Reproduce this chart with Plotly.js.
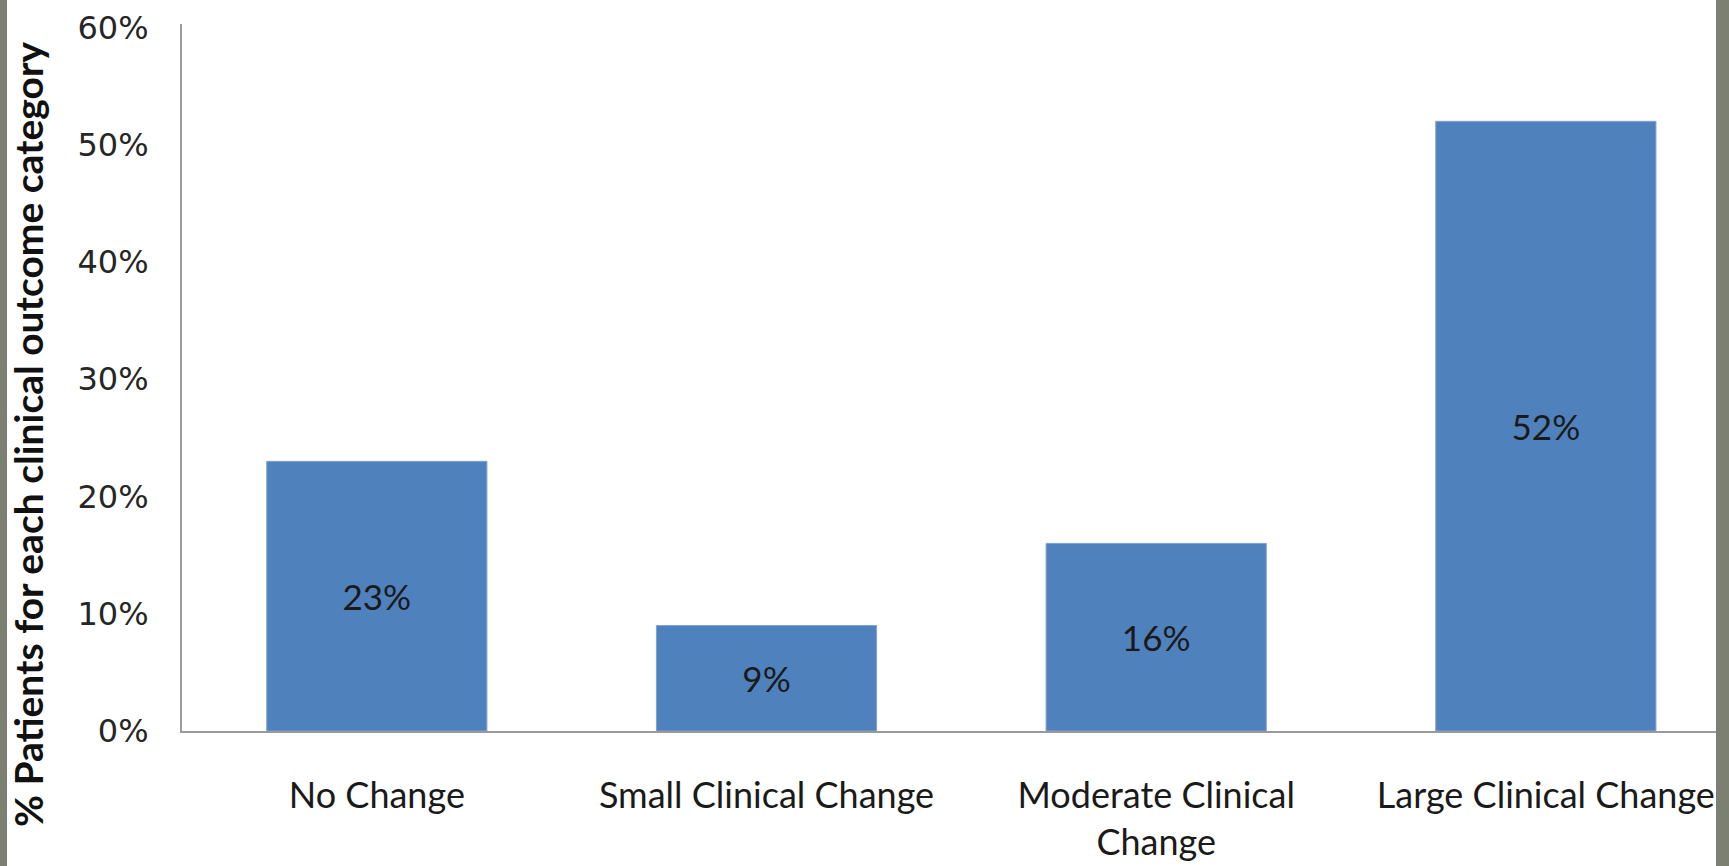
<!DOCTYPE html>
<html>
<head>
<meta charset="utf-8">
<script src="https://cdn.plot.ly/plotly-3.0.1.min.js"></script>
<style>
  html, body { margin: 0; padding: 0; background: #ffffff; overflow: hidden; }
  #wrap { position: relative; width: 1729px; height: 866px; }
  #chart { position: absolute; left: 0; top: 0; width: 1729px; height: 866px; }
  .edge { position: absolute; top: 0; height: 866px; background: #7c8070; pointer-events: none; }
</style>
</head>
<body>
<div id="wrap">
  <div id="chart"></div>
  <div class="edge" style="left:0; width:7px;"></div>
  <div class="edge" style="left:1716px; width:13px;"></div>
</div>
<script>
const categories = ["No Change", "Small Clinical Change", "Moderate Clinical<br>Change", "Large Clinical Change"];
const percentValues = [0.23, 0.09, 0.16, 0.52];
const valueLabels = ["23%", "9%", "16%", "52%"];
const yTickValues = [0, 0.1, 0.2, 0.3, 0.4, 0.5, 0.6];
const yTickLabels = ["0%", "10%", "20%", "30%", "40%", "50%", "60%"];
const yAxisTitle = "% Patients for each clinical outcome category";

const humanist = "Lato, 'Open Sans', sans-serif";

const trace = {
  type: "bar",
  x: categories,
  y: percentValues,
  text: valueLabels,
  textposition: "inside",
  insidetextanchor: "middle",
  textangle: 0,
  textfont: { family: humanist, size: 35, color: "#1a1a1a" },
  marker: { color: "#4f81bd", line: { color: "#7fa2d2", width: 1 } },
  hoverinfo: "skip",
  cliponaxis: false
};

const layout = {
  width: 1729,
  height: 866,
  paper_bgcolor: "#ffffff",
  plot_bgcolor: "#ffffff",
  margin: { l: 182, r: 0, t: 24, b: 135 },
  bargap: 0.435,
  showlegend: false,
  xaxis: {
    type: "category",
    range: [-0.5, 3.47],
    showline: true,
    linecolor: "#9a9a9a",
    linewidth: 2,
    showgrid: false,
    zeroline: false,
    ticks: "",
    ticklabelstandoff: 32,
    tickfont: { family: humanist, size: 36, color: "#1a1a1a" },
    fixedrange: true
  },
  yaxis: {
    range: [0, 0.603],
    tickvals: yTickValues,
    ticktext: yTickLabels,
    showline: true,
    linecolor: "#9a9a9a",
    linewidth: 2,
    showgrid: false,
    zeroline: false,
    ticks: "",
    ticklabelstandoff: 25,
    tickfont: { family: "'DejaVu Sans', Verdana, sans-serif", size: 32, color: "#262626" },
    fixedrange: true
  },
  annotations: [{
    text: "<b>" + yAxisTitle + "</b>",
    xref: "paper", yref: "paper",
    x: (28 - 182) / 1547, y: 0.42,
    xanchor: "center", yanchor: "middle",
    textangle: -90,
    showarrow: false,
    font: { family: humanist, size: 39, color: "#111111" }
  }]
};

Plotly.newPlot("chart", [trace], layout, { displayModeBar: false, staticPlot: true });
</script>
</body>
</html>
